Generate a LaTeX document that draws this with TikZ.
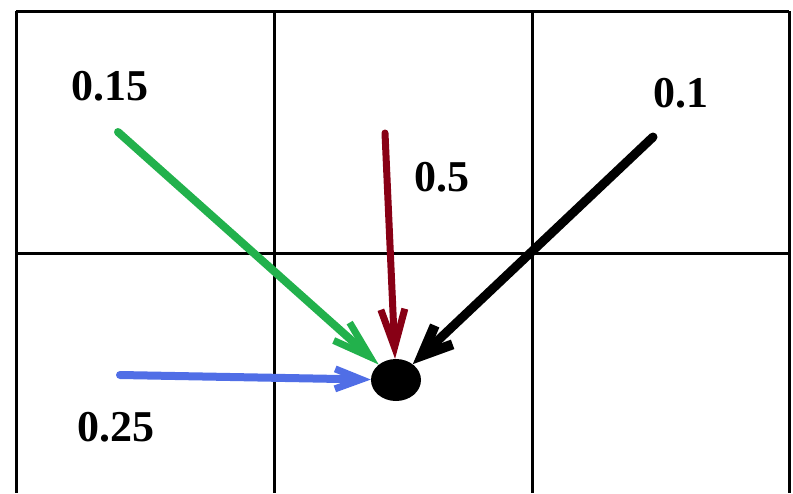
\documentclass[tikz,border=0pt]{standalone}
\usepackage{fontspec}
\setmainfont{Liberation Serif}
\usetikzlibrary{arrows.meta,shapes.geometric}

\definecolor{pgreen}{RGB}{34,177,76}
\definecolor{pred}{RGB}{136,0,21}
\definecolor{pblue}{RGB}{80,110,230}

\begin{document}
\begin{tikzpicture}[
  x=1pt, y=-1pt,
  grid/.style={line width=3pt},
  lbl/.style={font=\fontsize{44}{48}\selectfont\bfseries, inner sep=0pt},
  e/.style={line width=8pt, line cap=round, -{Straight Barb[length=38pt, width=24pt, line width=7pt]}},
  hubdot/.style={ellipse, fill=black, minimum width=50pt, minimum height=42pt, inner sep=0pt}
]
\useasboundingbox (0,0) rectangle (793,493);
% cells
\draw[grid] (16,11) -- (789,11);
\draw[grid] (16,253) -- (789,253);
\foreach \x in {16,274,532,789}
  \draw[grid] (\x,11) -- (\x,493);

\node[hubdot] (hub) at (396,380) {};

\coordinate (gs) at (118,132);
\coordinate (rs) at (385,133);
\coordinate (ks) at (653,137);
\coordinate (bs) at (120,375);

\node[lbl] (pg) at (110,86) {0.15};
\node[lbl] (pr) at (442,177) {0.5};
\node[lbl] (pk) at (681,93) {0.1};
\node[lbl] (pb) at (116,427) {0.25};

\draw[e, pgreen] (gs) -- (hub);
\draw[e, pred, line width=7pt] (rs) -- (hub);
\draw[e, black, line width=9pt, -{Straight Barb[length=30pt, width=26pt, line width=10pt]}] (ks) -- (hub);
\draw[e, pblue, -{Straight Barb[length=26pt, width=20pt, line width=7pt]}] (bs) -- (hub);
\end{tikzpicture}
\end{document}
